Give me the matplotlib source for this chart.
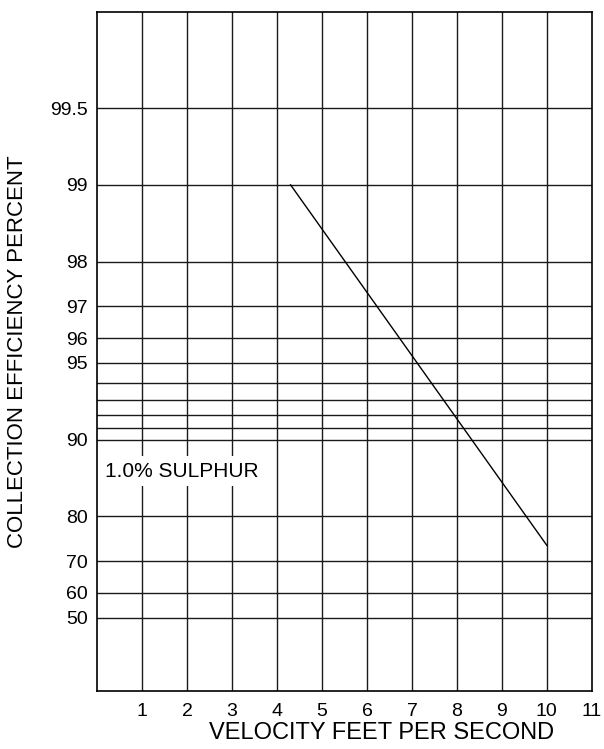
import numpy as np
import matplotlib
matplotlib.use("Agg")
import matplotlib.pyplot as plt

plt.rcParams['font.family'] = ['Liberation Sans', 'DejaVu Sans']

# Data
velocity = [4.3, 10.0]
efficiency = [99.0, 74.0]
y_grid = [50, 60, 70, 80, 90, 91, 92, 93, 94, 95, 96, 97, 98, 99, 99.5]
y_labels = {50: "50", 60: "60", 70: "70", 80: "80", 90: "90", 95: "95",
            96: "96", 97: "97", 98: "98", 99: "99", 99.5: "99.5"}
x_ticks = list(range(1, 12))
x_grid = list(range(1, 11))
annotation = "1.0% SULPHUR"
xlabel = "VELOCITY FEET PER SECOND"
ylabel = "COLLECTION EFFICIENCY PERCENT"

def fwd(p):
    p = np.asarray(p, dtype=float)
    return -np.log10(np.clip(100.0 - p, 1e-9, None))

def inv(v):
    v = np.asarray(v, dtype=float)
    return 100.0 - 10.0 ** (-v)

fig = plt.figure(figsize=(6.04, 7.49), dpi=100)
ax = fig.add_axes([0.1611, 0.0778, 0.9797 - 0.1611, 0.9844 - 0.0778])
ax.set_yscale('function', functions=(fwd, inv))
ax.set_xlim(0, 11)
ax.set_ylim(3.2, 99.791)

grid_color = '#1a1a1a'
for yv in y_grid:
    ax.axhline(yv, color=grid_color, lw=1.0, zorder=1)
for xv in x_grid:
    ax.axvline(xv, color=grid_color, lw=1.0, zorder=1)

ax.plot(velocity, efficiency, color='black', lw=1.0, zorder=3)

ax.text(0.17, 86.7, annotation, fontsize=15, ha='left', va='center', zorder=4,
        bbox=dict(facecolor='white', edgecolor='none', pad=4))

ax.set_yticks(y_grid)
ax.set_yticklabels([y_labels.get(v, "") for v in y_grid])
ax.set_xticks(x_ticks)
ax.set_xticklabels([str(v) for v in x_ticks])
ax.minorticks_off()
ax.tick_params(axis='both', length=0, labelsize=14, colors='black')
ax.tick_params(axis='y', pad=7)
ax.tick_params(axis='x', pad=9)

for s in ax.spines.values():
    s.set_linewidth(1.2)
    s.set_color('black')

ax.set_xlabel(xlabel, fontsize=17)
ax.xaxis.set_label_coords(0.574, -0.062)
ax.xaxis.label.set_va('center')
ax.set_ylabel(ylabel, fontsize=16)
ax.yaxis.label.set_va('center')
ax.yaxis.set_label_coords(-0.1604, 0.5)

fig.savefig("out.png", dpi=100)
